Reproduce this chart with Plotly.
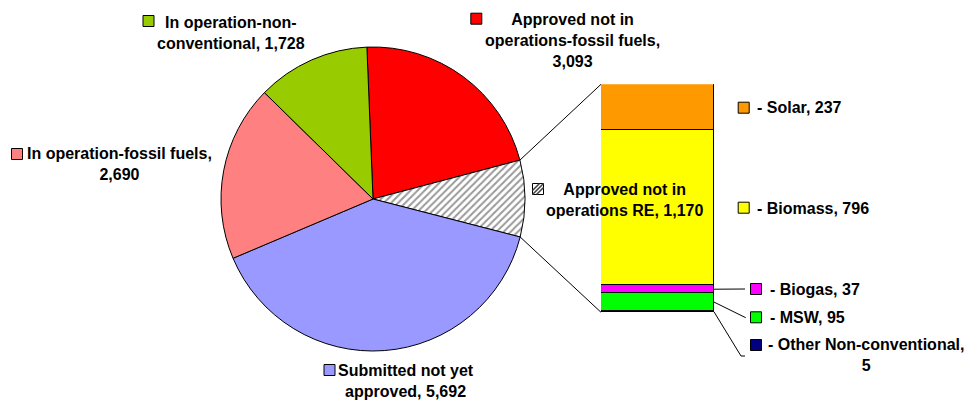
import math
import plotly.graph_objects as go

W, H = 965, 401

# ---- data ----
pie_names = ["Approved not in<br>operations-fossil fuels,<br>{v}",
             "Approved not in<br>operations RE, {v}",
             "Submitted not yet<br>approved, {v}",
             "In operation-fossil fuels,<br>{v}",
             "In operation-non-<br>conventional, {v}"]
pie_values = [3093, 1170, 5692, 2690, 1728]
pie_colors = ["#FF0000", "#FFFFFF", "#9999FF", "#FF8080", "#99CC00"]

bar_names = ["- Other Non-conventional,<br>{v}", "- MSW, {v}", "- Biogas, {v}", "- Biomass, {v}", "- Solar, {v}"]
bar_values = [5, 95, 37, 796, 237]
bar_colors = ["#000080", "#00FF00", "#FF00FF", "#FFFF00", "#FF9900"]

# ---- layout geometry (pixels) ----
PCX, PCY, PR = 373, 199, 152
ROT = -2.3
BX0, BX1, BTOP, BBOT = 601, 714, 84.3, 312.3
FONT = "Liberation Sans, Arial, sans-serif"
FS = 16


def px(x):
    return x / W


def py(y):
    return 1 - y / H


fig = go.Figure()

fig.add_trace(go.Pie(
    values=pie_values,
    labels=[n.format(v=f"{v:,}") for n, v in zip(pie_names, pie_values)],
    sort=False, direction="clockwise", rotation=ROT,
    textinfo="none", hoverinfo="label",
    marker=dict(colors=pie_colors, line=dict(color="black", width=1),
                pattern=dict(shape=["", "/", "", "", ""], fgcolor="#999999",
                             size=5, solidity=0.4)),
    domain=dict(x=[px(PCX - PR), px(PCX + PR)], y=[py(PCY + PR), py(PCY - PR)]),
    showlegend=False,
))

for n, v, c in zip(bar_names, bar_values, bar_colors):
    fig.add_trace(go.Bar(x=[0], y=[v], width=1, marker=dict(color=c, line=dict(color="black", width=1)),
                         name=n.format(v=v), showlegend=False, hoverinfo="name"))

shapes = []
annotations = []

# connectors from the RE slice edges to the bar
total = sum(pie_values)
start_frac = pie_values[0] / total
end_frac = (pie_values[0] + pie_values[1]) / total


def pie_pt(frac):
    a = math.radians(ROT + frac * 360)
    return PCX + PR * math.sin(a), PCY - PR * math.cos(a)


bar_total = sum(bar_values)


def bar_y(v):
    return BBOT - v / bar_total * (BBOT - BTOP)


for frac, yy in [(start_frac, bar_y(bar_total)), (end_frac, bar_y(0))]:
    x0, y0 = pie_pt(frac)
    shapes.append(dict(type="line", xref="paper", yref="paper", x0=px(x0), y0=py(y0),
                       x1=px(BX0), y1=py(yy), line=dict(color="black", width=1)))


def key(cx, cy, color, s=11):
    shapes.append(dict(type="rect", xref="paper", yref="paper",
                       x0=px(cx - s / 2), x1=px(cx + s / 2), y0=py(cy + s / 2), y1=py(cy - s / 2),
                       fillcolor=color, line=dict(color="black", width=1), layer="above"))


def label(x, y, text, xanchor="center", align="center"):
    annotations.append(dict(xref="paper", yref="paper", x=px(x), y=py(y), text="<b>" + text + "</b>",
                            showarrow=False, xanchor=xanchor, yanchor="middle", align=align,
                            font=dict(family=FONT, size=FS, color="black")))


# pie labels: (text centre x, centre y, key x, key y)
pie_label_pos = [(572, 40, 476.3, 18.7), (624, 199.5, 538, 189), (406, 380.5, 329.5, 370),
                 (119, 164, 17, 154), (231, 32.5, 148.5, 21)]
for n, v, c, (tx, ty, kx, ky) in zip(pie_names, pie_values, pie_colors, pie_label_pos):
    label(tx, ty, n.format(v=f"{v:,}"))
    key(kx, ky, c)
    if c == "#FFFFFF":
        s = 5.5
        path = ""
        for d in [-4, 0, 4]:
            path += f"M {px(kx - s + max(d,0))} {py(ky + s - max(-d,0))} L {px(kx + s - max(-d,0))} {py(ky - s + max(d,0))} "
        shapes.append(dict(type="path", xref="paper", yref="paper", path=path,
                           line=dict(color="#404040", width=1.5), layer="above"))

# bar labels
cum = 0
mids = []
for v in bar_values:
    mids.append(bar_y(cum + v / 2))
    cum += v

bar_label_pos = [(866, 355, 756, 345, "center"), (768, 317.3, 756, 317.3, "left"),
                 (768, 289, 756, 289, "left"), (755, 208, 743.7, 207.7, "left"),
                 (755, 107.7, 743.7, 107.7, "left")]
for n, v, c, (tx, ty, kx, ky, anc) in zip(bar_names, bar_values, bar_colors, bar_label_pos):
    label(tx, ty, n.format(v=v), xanchor=anc, align="center")
    key(kx, ky, c)

# leader lines
leaders = [(mids[2], 745, 289), (mids[1], 745.7, 317.7), (mids[0], 741, 356)]
for ym, ex, ey in leaders:
    shapes.append(dict(type="line", xref="paper", yref="paper", x0=px(BX1), y0=py(ym), x1=px(ex), y1=py(ey),
                       line=dict(color="black", width=1)))
shapes.append(dict(type="line", xref="paper", yref="paper", x0=px(741), y0=py(356), x1=px(745), y1=py(356),
                   line=dict(color="black", width=1)))

fig.update_layout(
    width=W, height=H, margin=dict(l=0, r=0, t=0, b=0),
    paper_bgcolor="white", plot_bgcolor="rgba(0,0,0,0)",
    barmode="stack", bargap=0, showlegend=False,
    xaxis=dict(domain=[px(BX0), px(BX1)], range=[-0.5, 0.5], visible=False, fixedrange=True),
    yaxis=dict(domain=[py(BBOT), py(BTOP)], range=[0, bar_total], visible=False, fixedrange=True),
    shapes=shapes, annotations=annotations,
)

fig.write_html("out.html")
